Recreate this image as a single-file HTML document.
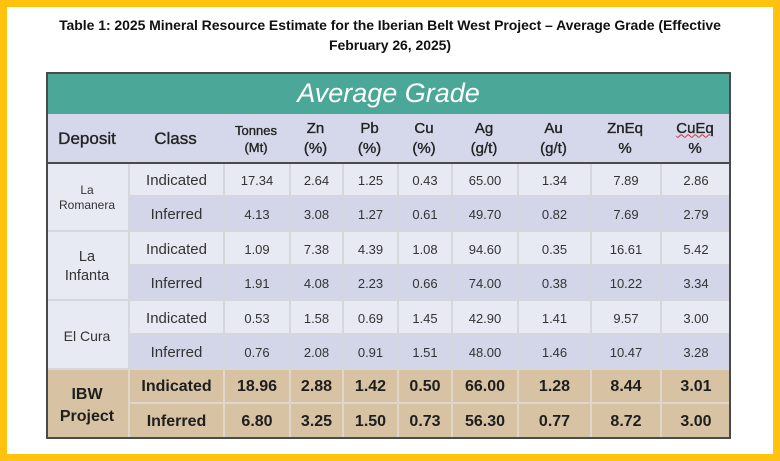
<!DOCTYPE html>
<html><head><meta charset="utf-8">
<style>
*{margin:0;padding:0;box-sizing:border-box}
html,body{width:780px;height:461px;overflow:hidden}
body{background:#ffc20e;position:relative;font-family:"Liberation Sans",Arial,sans-serif;color:#2b2b2b}
.inner{position:absolute;left:7px;top:7px;width:766px;height:447px;background:#fff}
.title{position:absolute;left:7px;top:15px;width:766px;text-align:center;font-weight:bold;font-size:14px;line-height:20px;letter-spacing:-0.05px;color:#111}
.teal{position:absolute;left:46px;top:72px;width:685px;height:42px;background:#4ba899;color:#fff;font-style:italic;font-size:27px;display:flex;align-items:center;justify-content:center;padding-top:1px}
.hdr{position:absolute;left:46px;top:114px;width:685px;height:49px;background:#d4d8ea;display:flex}
.hdr div{display:flex;align-items:center;justify-content:center;text-align:center;color:#222;-webkit-text-stroke:0.35px #222}
.h2{font-size:15px;line-height:20px}
.row{position:absolute;left:128px;display:flex;width:603px}
.row div{display:flex;align-items:center;justify-content:center;border-left:2px solid #d6d7dc;border-bottom:2px solid #d6d7dc;font-size:13px;color:#333;padding-top:2px}
.row div:first-child{font-size:15px}
.L{background:#e8eaf3}
.D{background:#d2d6e8}
.T{background:#d7c3a3}
.T div{border-color:#e0d6c9 !important;font-weight:bold;font-size:16px !important;color:#1e1e1e}
.dep{position:absolute;left:46px;width:82px;display:flex;align-items:center;justify-content:center;text-align:center;border-bottom:2px solid #d6d7dc;color:#333;padding-top:3px}
.frame{position:absolute;left:46px;top:72px;width:685px;height:367px;border:2px solid #4a4a4a}
.hline{position:absolute;left:46px;top:162px;width:685px;height:2px;background:#4a4a4a}
.w1{width:95px}.w2{width:66px}.w3{width:53px}.w4{width:55px}.w5{width:54px}.w6{width:66px}.w7{width:73px}.w8{width:70px}.w9{width:70px}
</style></head><body>
<div class="inner"></div>
<div class="title">Table 1: 2025 Mineral Resource Estimate for the Iberian Belt West Project – Average Grade (Effective<br>February 26, 2025)</div>

<div class="teal">Average Grade</div>
<div class="hdr">
  <div style="width:82px;font-size:17px">Deposit</div>
  <div style="width:95px;font-size:17px">Class</div>
  <div style="width:66px;font-size:13px;line-height:17px">Tonnes<br>(Mt)</div>
  <div class="h2" style="width:53px">Zn<br>(%)</div>
  <div class="h2" style="width:55px">Pb<br>(%)</div>
  <div class="h2" style="width:54px">Cu<br>(%)</div>
  <div class="h2" style="width:66px">Ag<br>(g/t)</div>
  <div class="h2" style="width:73px">Au<br>(g/t)</div>
  <div class="h2" style="width:70px">ZnEq<br>%</div>
  <div class="h2" style="width:70px"><span><span style="text-decoration:underline wavy #d33;text-decoration-thickness:1px;-webkit-text-stroke:0.35px #222">CuEq</span><br>%</span></div>
</div>

<div class="dep L" style="top:163px;height:69px;font-size:12px;line-height:15px">La<br>Romanera</div>
<div class="dep L" style="top:232px;height:69px;font-size:14.5px;line-height:19px">La<br>Infanta</div>
<div class="dep L" style="top:301px;height:69px;font-size:14px">El Cura</div>
<div class="dep T" style="top:370px;height:68px;font-size:16px;line-height:22px;font-weight:bold;color:#1e1e1e;border-bottom:none">IBW<br>Project</div>

<div class="row L" style="top:163px;height:34px"><div class="w1">Indicated</div><div class="w2">17.34</div><div class="w3">2.64</div><div class="w4">1.25</div><div class="w5">0.43</div><div class="w6">65.00</div><div class="w7">1.34</div><div class="w8">7.89</div><div class="w9">2.86</div></div>
<div class="row D" style="top:197px;height:35px"><div class="w1">Inferred</div><div class="w2">4.13</div><div class="w3">3.08</div><div class="w4">1.27</div><div class="w5">0.61</div><div class="w6">49.70</div><div class="w7">0.82</div><div class="w8">7.69</div><div class="w9">2.79</div></div>
<div class="row L" style="top:232px;height:34px"><div class="w1">Indicated</div><div class="w2">1.09</div><div class="w3">7.38</div><div class="w4">4.39</div><div class="w5">1.08</div><div class="w6">94.60</div><div class="w7">0.35</div><div class="w8">16.61</div><div class="w9">5.42</div></div>
<div class="row D" style="top:266px;height:35px"><div class="w1">Inferred</div><div class="w2">1.91</div><div class="w3">4.08</div><div class="w4">2.23</div><div class="w5">0.66</div><div class="w6">74.00</div><div class="w7">0.38</div><div class="w8">10.22</div><div class="w9">3.34</div></div>
<div class="row L" style="top:301px;height:34px"><div class="w1">Indicated</div><div class="w2">0.53</div><div class="w3">1.58</div><div class="w4">0.69</div><div class="w5">1.45</div><div class="w6">42.90</div><div class="w7">1.41</div><div class="w8">9.57</div><div class="w9">3.00</div></div>
<div class="row D" style="top:335px;height:35px"><div class="w1">Inferred</div><div class="w2">0.76</div><div class="w3">2.08</div><div class="w4">0.91</div><div class="w5">1.51</div><div class="w6">48.00</div><div class="w7">1.46</div><div class="w8">10.47</div><div class="w9">3.28</div></div>
<div class="row T" style="top:370px;height:34px"><div class="w1">Indicated</div><div class="w2">18.96</div><div class="w3">2.88</div><div class="w4">1.42</div><div class="w5">0.50</div><div class="w6">66.00</div><div class="w7">1.28</div><div class="w8">8.44</div><div class="w9">3.01</div></div>
<div class="row T" style="top:404px;height:34px"><div class="w1" style="border-bottom:none">Inferred</div><div class="w2" style="border-bottom:none">6.80</div><div class="w3" style="border-bottom:none">3.25</div><div class="w4" style="border-bottom:none">1.50</div><div class="w5" style="border-bottom:none">0.73</div><div class="w6" style="border-bottom:none">56.30</div><div class="w7" style="border-bottom:none">0.77</div><div class="w8" style="border-bottom:none">8.72</div><div class="w9" style="border-bottom:none">3.00</div></div>

<div class="hline"></div>
<div class="frame"></div>
</body></html>
